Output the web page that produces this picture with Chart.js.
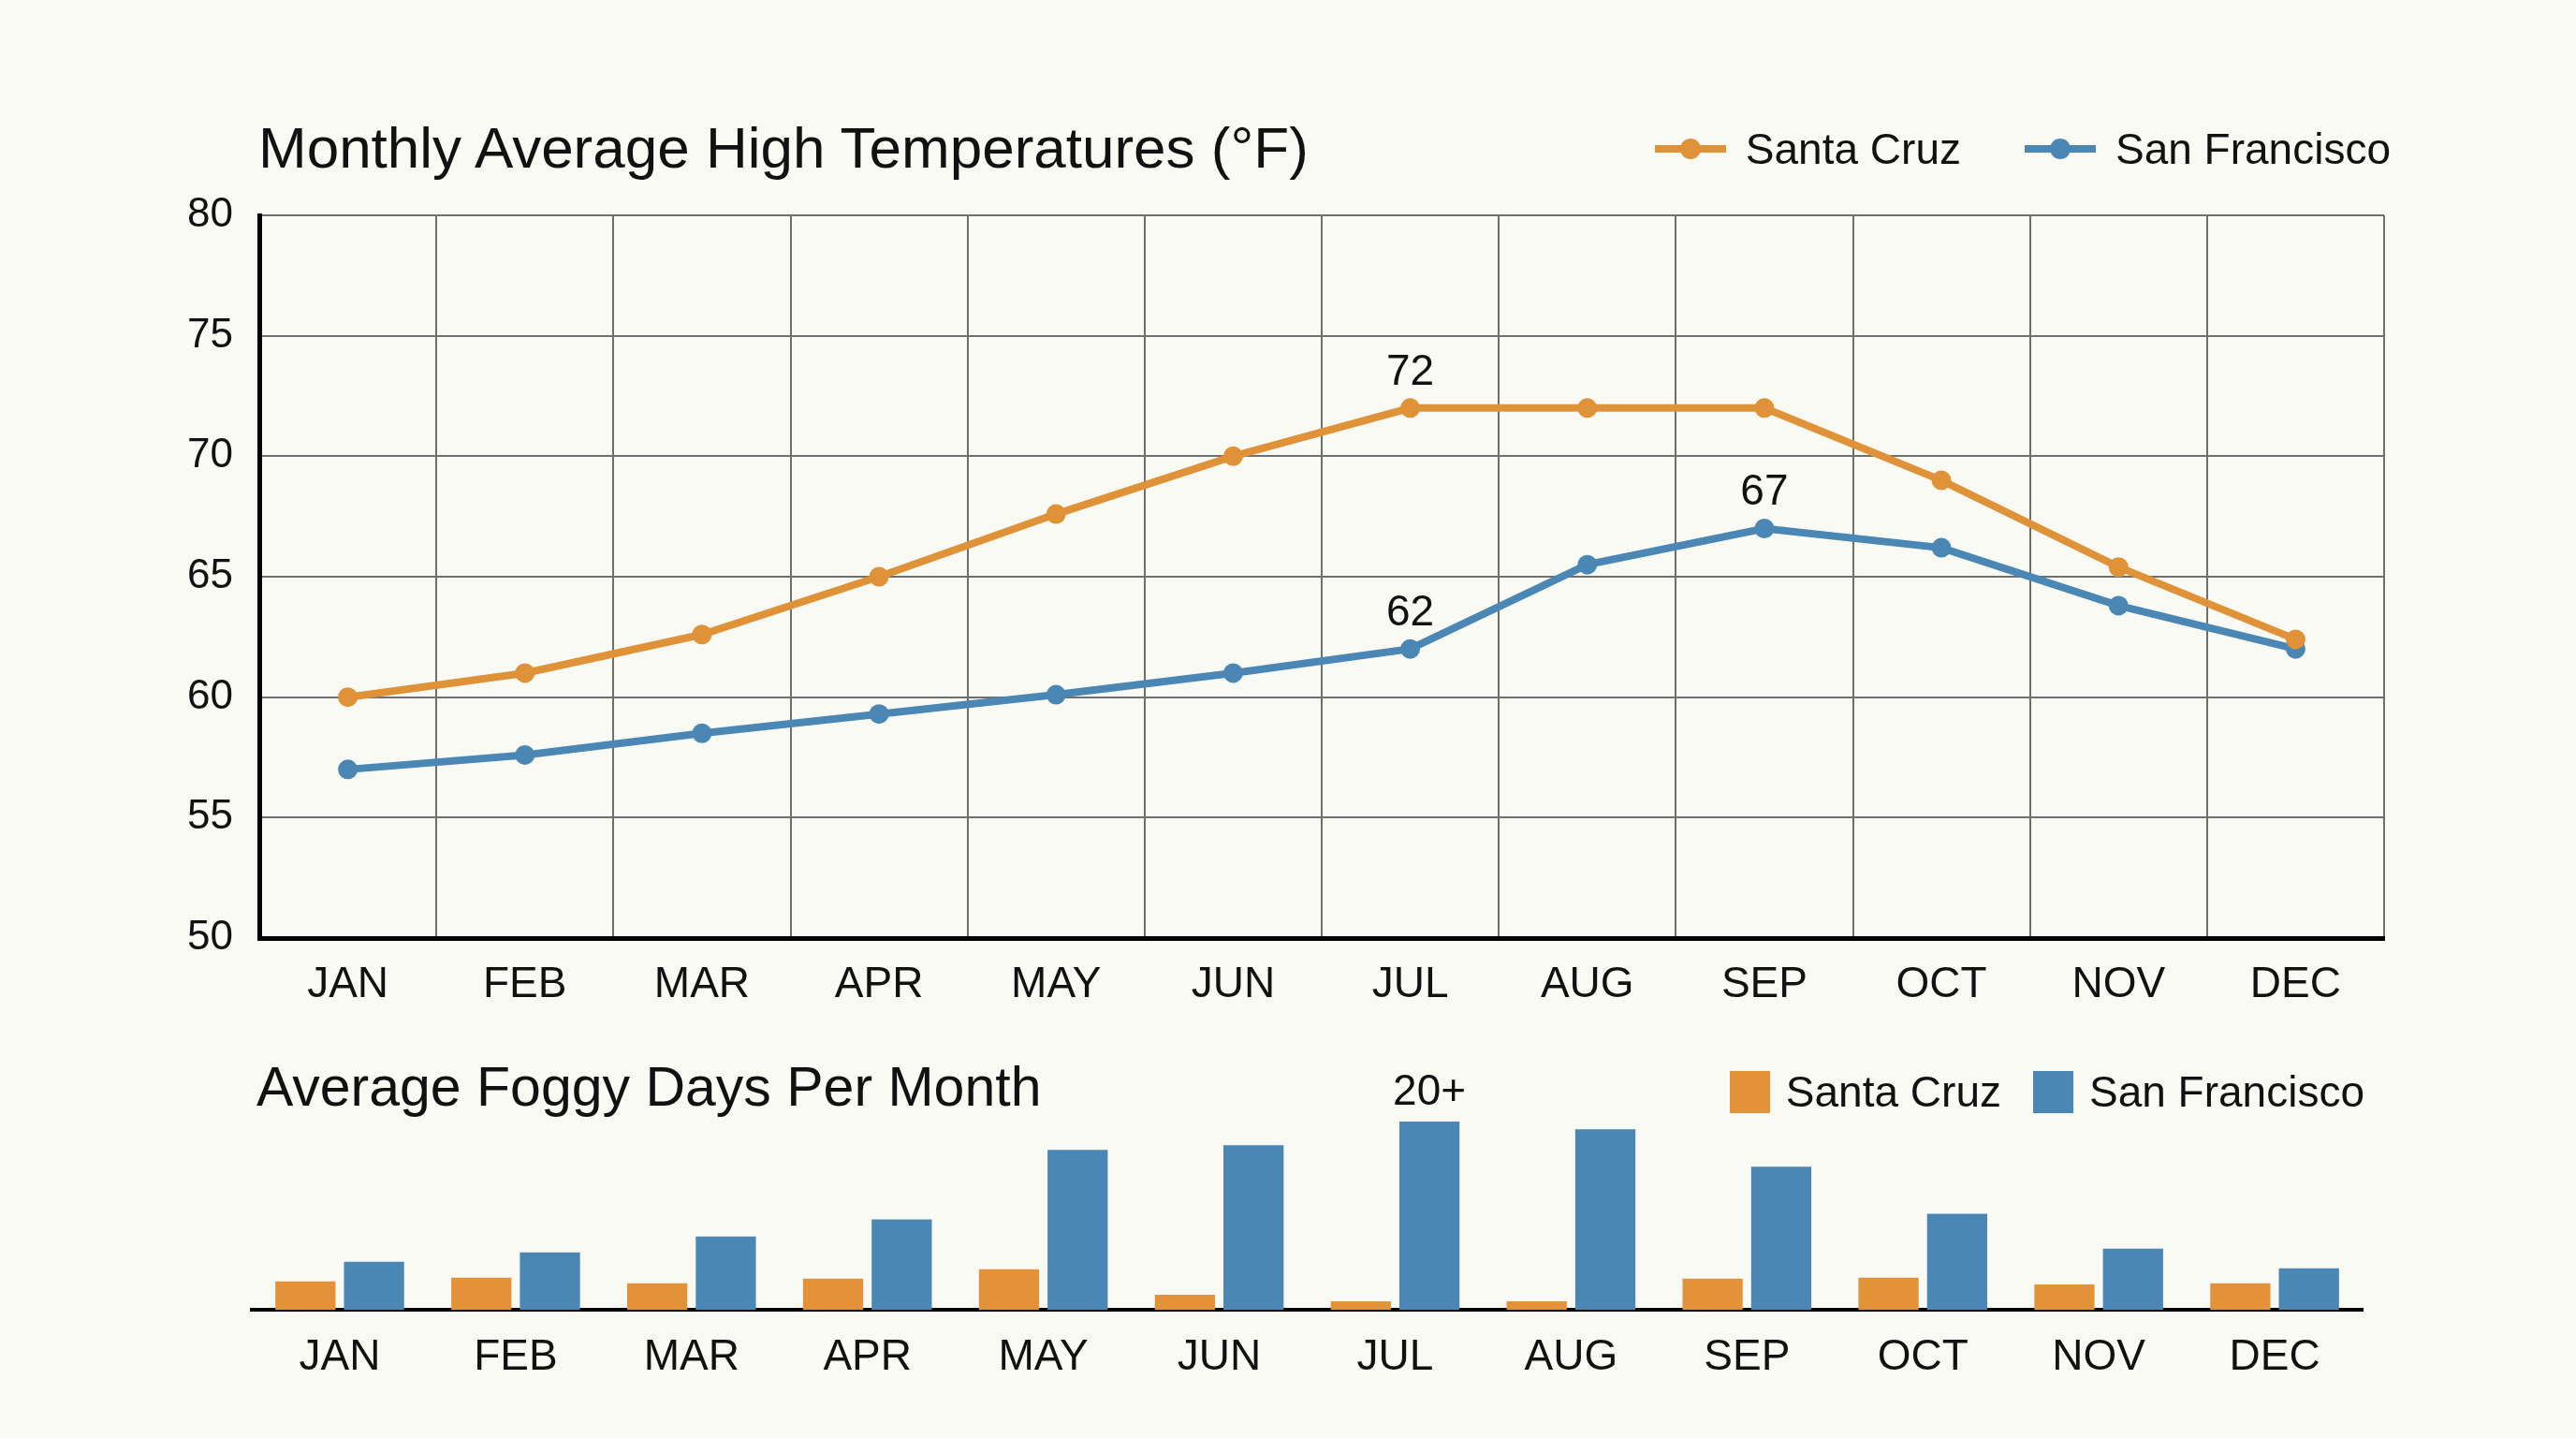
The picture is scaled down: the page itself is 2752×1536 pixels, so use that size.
<!DOCTYPE html>
<html>
<head>
<meta charset="utf-8">
<script src="https://cdn.jsdelivr.net/npm/chart.js@4.4.1/dist/chart.umd.min.js"></script>
<style>
  html, body { margin: 0; padding: 0; background: #FAFAF5; }
  body { width: 2752px; height: 1536px; position: relative; overflow: hidden;
         font-family: 'Liberation Sans', Arial, sans-serif; color: #111; }
  canvas { position: absolute; left: 0; }
  .title { position: absolute; line-height: 1; white-space: nowrap; }
  .legend { position: absolute; display: flex; align-items: center; height: 46px;
            font-size: 46px; line-height: 1; white-space: nowrap; }
  .legend .item { display: flex; align-items: center; }
  .line-mark { position: relative; width: 76px; height: 22px; margin-right: 21px; }
  .line-mark .seg { position: absolute; left: 0; top: 7px; width: 76px; height: 8px; }
  .line-mark .dot { position: absolute; left: 27px; top: 0; width: 22px; height: 22px; border-radius: 50%; }
  .box-mark { width: 43px; height: 45px; margin-right: 17px; }
</style>
</head>
<body>
<canvas id="temps" width="2752" height="1100" style="top:0"></canvas>
<canvas id="fog" width="2752" height="436" style="top:1100px"></canvas>
<div class="title" style="left:276px; top:127px; font-size:62px">Monthly Average High Temperatures (°F)</div>
<div class="legend" id="tempLegend" style="top:136px; right:198px"></div>
<div class="title" style="left:274px; top:1132px; font-size:59px">Average Foggy Days Per Month</div>
<div class="legend" id="fogLegend" style="top:1143px; right:226px"></div>
<script>
const months = ['JAN', 'FEB', 'MAR', 'APR', 'MAY', 'JUN', 'JUL', 'AUG', 'SEP', 'OCT', 'NOV', 'DEC'];

// average high temperature, °F
const santaCruzTemps = [60, 61, 62.6, 65, 67.6, 70, 72, 72, 72, 69, 65.4, 62.4];
const sanFranTemps = [57, 57.6, 58.5, 59.3, 60.1, 61, 62, 65.5, 67, 66.2, 63.8, 62];

// average foggy days per month
const santaCruzFog = [3, 3.4, 2.8, 3.3, 4.3, 1.6, 0.9, 0.9, 3.3, 3.4, 2.7, 2.8];
const sanFranFog = [5.1, 6.1, 7.8, 9.6, 17, 17.5, 20, 19.2, 15.2, 10.2, 6.5, 4.4];

// labels written over single points: dataset, month, text
const tempCallouts = [[0, 6, '72'], [1, 6, '62'], [1, 8, '67']];
const fogCallouts = [[1, 6, '20+']];

const orange = '#E09238';
const blue = '#4A87B5';
const font = "'Liberation Sans', Arial, sans-serif";
Chart.defaults.font.family = font;
Chart.defaults.color = '#111';

const callouts = {
    id: 'callouts',
    afterDatasetsDraw(chart, args, opts) {
        const ctx = chart.ctx;
        ctx.save();
        ctx.font = '46px ' + font;
        ctx.fillStyle = '#111';
        ctx.textAlign = 'center';
        ctx.textBaseline = 'middle';
        opts.items.forEach(([ds, i, text]) => {
            const el = chart.getDatasetMeta(ds).data[i];
            ctx.fillText(text, el.x, el.y - opts.offset);
        });
        ctx.restore();
    }
};

const tempChart = new Chart(document.getElementById('temps'), {
    type: 'line',
    data: {
        labels: months,
        datasets: [{
            label: 'Santa Cruz',
            data: santaCruzTemps,
            borderColor: orange,
            backgroundColor: orange,
            borderWidth: 8,
            pointRadius: 10.5,
            pointBorderWidth: 0,
            tension: 0
        }, {
            label: 'San Francisco',
            data: sanFranTemps,
            borderColor: blue,
            backgroundColor: blue,
            borderWidth: 8,
            pointRadius: 10.5,
            pointBorderWidth: 0,
            tension: 0
        }]
    },
    options: {
        responsive: false,
        devicePixelRatio: 1,
        animation: false,
        layout: { padding: { top: 230, left: 0, right: 205, bottom: 0 } },
        plugins: {
            legend: { display: false },
            tooltip: { enabled: false },
            callouts: { items: tempCallouts, offset: 38 }
        },
        scales: {
            x: {
                offset: true,
                grid: { offset: true, color: '#6f6f6f', lineWidth: 2, drawTicks: false },
                border: { color: '#000', width: 5 },
                ticks: { color: '#111', font: { size: 46 }, padding: 23 },
                afterFit(s) { s.height = 98; }
            },
            y: {
                min: 50,
                max: 80,
                ticks: { stepSize: 5, color: '#111', font: { size: 44 }, padding: 28 },
                grid: { color: '#6f6f6f', lineWidth: 2, drawTicks: false },
                border: { color: '#000', width: 5 },
                afterFit(s) { s.width = 277; }
            }
        }
    },
    plugins: [callouts]
});

const fogChart = new Chart(document.getElementById('fog'), {
    type: 'bar',
    data: {
        labels: months,
        datasets: [{
            label: 'Santa Cruz',
            data: santaCruzFog,
            backgroundColor: '#E3923A'
        }, {
            label: 'San Francisco',
            data: sanFranFog,
            backgroundColor: '#4B87B4'
        }]
    },
    options: {
        responsive: false,
        devicePixelRatio: 1,
        animation: false,
        barPercentage: 0.877,
        categoryPercentage: 0.78,
        layout: { padding: { top: 78, left: 269, right: 228, bottom: 0 } },
        plugins: {
            legend: { display: false },
            tooltip: { enabled: false },
            callouts: { items: fogCallouts, offset: 31 }
        },
        scales: {
            x: {
                grid: { display: false, drawTicks: false },
                border: { color: '#000', width: 4 },
                ticks: { color: '#111', font: { size: 46 }, padding: 24 },
                afterFit(s) { s.height = 137; }
            },
            y: { display: false, min: 0, max: 22 }
        }
    },
    plugins: [callouts]
});

// html legends built from the charts' own legend items
function buildLegend(chart, holder, gap, markFor) {
    const items = chart.options.plugins.legend.labels.generateLabels(chart);
    items.forEach((it, i) => {
        const row = document.createElement('div');
        row.className = 'item';
        if (i > 0) row.style.marginLeft = gap + 'px';
        row.appendChild(markFor(it));
        const txt = document.createElement('span');
        txt.textContent = it.text;
        row.appendChild(txt);
        holder.appendChild(row);
    });
}

buildLegend(tempChart, document.getElementById('tempLegend'), 68, it => {
    const m = document.createElement('span');
    m.className = 'line-mark';
    const seg = document.createElement('span');
    seg.className = 'seg';
    seg.style.background = it.strokeStyle;
    const dot = document.createElement('span');
    dot.className = 'dot';
    dot.style.background = it.fillStyle;
    m.appendChild(seg);
    m.appendChild(dot);
    return m;
});

buildLegend(fogChart, document.getElementById('fogLegend'), 34, it => {
    const m = document.createElement('span');
    m.className = 'box-mark';
    m.style.background = it.fillStyle;
    return m;
});
</script>
</body>
</html>
